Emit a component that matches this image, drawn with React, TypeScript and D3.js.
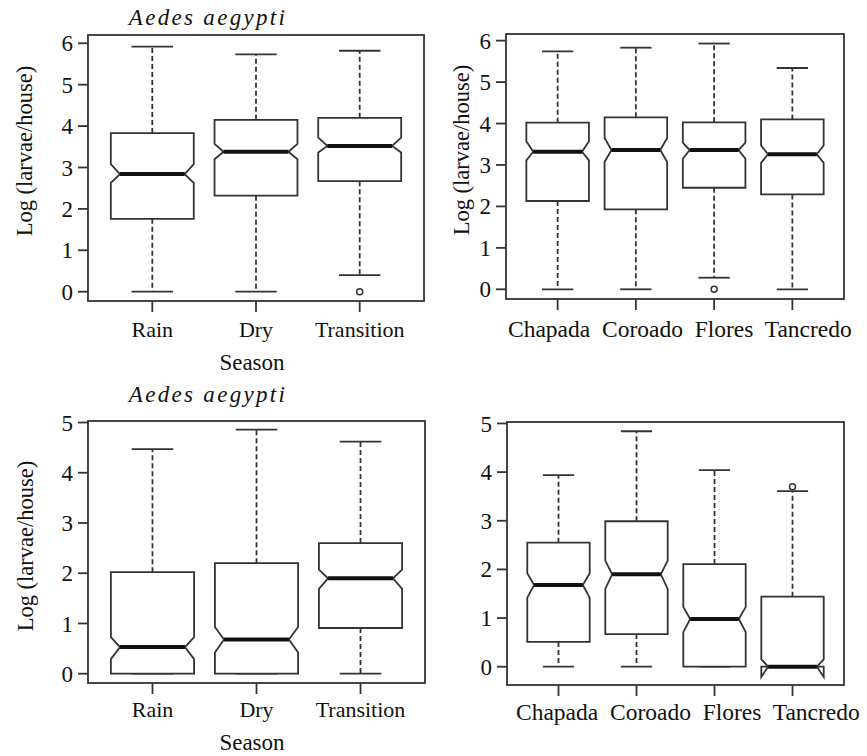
import * as d3 from "d3";

const SEASONS = ["Rain", "Dry", "Transition"];
const LOCALITIES = ["Chapada", "Coroado", "Flores", "Tancredo"];

// each box: [lower whisker, Q1, notch low, median, notch high, Q3, upper whisker]
const SEASON_1 = [
  [0, 1.76, 2.63, 2.84, 3.08, 3.83, 5.92],
  [0, 2.32, 3.2, 3.38, 3.57, 4.15, 5.73],
  [0.4, 2.67, 3.36, 3.52, 3.72, 4.2, 5.82],
];
const SEASON_1_OUT = [[], [], [0]];

const LOCALITY_1 = [
  [0, 2.13, 3.11, 3.32, 3.57, 4.02, 5.74],
  [0, 1.93, 3.07, 3.36, 3.65, 4.15, 5.83],
  [0.28, 2.45, 3.15, 3.36, 3.54, 4.03, 5.93],
  [0, 2.29, 3.05, 3.26, 3.47, 4.1, 5.34],
];
const LOCALITY_1_OUT = [[], [], [0], []];

const SEASON_2 = [
  [0, 0, 0.29, 0.53, 0.73, 2.02, 4.47],
  [0, 0, 0.42, 0.68, 0.93, 2.2, 4.86],
  [0, 0.91, 1.69, 1.9, 2.07, 2.6, 4.62],
];
const SEASON_2_OUT = [[], [], []];

const LOCALITY_2 = [
  [0, 0.51, 1.42, 1.68, 1.92, 2.55, 3.94],
  [0, 0.67, 1.6, 1.9, 2.18, 2.99, 4.84],
  [0, 0, 0.71, 0.98, 1.23, 2.11, 4.04],
  [0, 0, -0.21, 0, 0.15, 1.44, 3.61],
];
const LOCALITY_2_OUT = [[], [], [], [3.7]];

const FONT = "'Liberation Serif', 'Times New Roman', serif";
const INK = "#111";
const LINE = "#333";
const NOTCH_FRAC = 0.78;
const LW = 1.8;

type PanelProps = {
  cats: string[];
  stats: number[][];
  outliers: number[][];
  domain: [number, number];
  frame: { x0: number; x1: number; y0: number; y1: number };
  title?: { x: number; y: number };
  ylab?: { x: number; y: number };
  xlab?: { x: number; y: number };
  catLabelY: number;
  catSize: number;
  // the locality panels have their names typed as one spaced line
  catLine?: { x: number };
};

function Panel({ cats, stats, outliers, domain, frame, title, ylab, xlab, catLabelY, catSize, catLine }: PanelProps) {
  const { x0, x1, y0, y1 } = frame;
  const n = cats.length;
  const x = d3.scalePoint<string>().domain(cats).range([x0, x1]).padding(0.5 + 0.04 * n);
  const y = d3.scaleLinear().domain(domain).range([y1, y0]);
  const wid = x.step() * 0.4;
  const yTicks = y.ticks(6).filter((t) => t >= 0);
  const line = d3.line();

  return (
    <g>
      {/* boxes */}
      {cats.map((c, i) => {
        const [lo, q1, nlo, med, nhi, q3, hi] = stats[i];
        const cx = x(c) ?? 0;
        const pts: [number, number][] = [
          [-1, q1], [1, q1], [1, nlo], [NOTCH_FRAC, med], [1, nhi], [1, q3],
          [-1, q3], [-1, nhi], [-NOTCH_FRAC, med], [-1, nlo],
        ].map(([dx, v]) => [cx + dx * wid, y(v)]);
        return (
          <g key={c}>
            <line x1={cx} x2={cx} y1={y(q3)} y2={y(hi)} stroke={LINE} strokeWidth={LW} strokeDasharray="5,3" />
            <line x1={cx} x2={cx} y1={y(q1)} y2={y(lo)} stroke={LINE} strokeWidth={LW} strokeDasharray="5,3" />
            <line x1={cx - wid / 2} x2={cx + wid / 2} y1={y(hi)} y2={y(hi)} stroke={LINE} strokeWidth={LW} />
            <line x1={cx - wid / 2} x2={cx + wid / 2} y1={y(lo)} y2={y(lo)} stroke={LINE} strokeWidth={LW} />
            <path d={line(pts) + "Z"} fill="white" stroke={LINE} strokeWidth={LW} strokeLinejoin="miter" />
            <line x1={cx - NOTCH_FRAC * wid} x2={cx + NOTCH_FRAC * wid} y1={y(med)} y2={y(med)} stroke="#111" strokeWidth={4} />
            {outliers[i].map((v, k) => (
              <circle key={k} cx={cx} cy={y(v)} r={3} fill="white" stroke={LINE} strokeWidth={1.5} />
            ))}
          </g>
        );
      })}

      {/* frame */}
      <rect x={x0} y={y0} width={x1 - x0} height={y1 - y0} fill="none" stroke={LINE} strokeWidth={LW} />

      {/* y axis */}
      {yTicks.map((t) => (
        <g key={t}>
          <line x1={x0 - 10} x2={x0} y1={y(t)} y2={y(t)} stroke={LINE} strokeWidth={LW} />
          <text x={x0 - 15} y={y(t)} dy="0.35em" textAnchor="end" fontSize={23} fontFamily={FONT} fill={INK}>
            {t}
          </text>
        </g>
      ))}

      {/* x axis */}
      {cats.map((c) => (
        <line key={c} x1={x(c)} x2={x(c)} y1={y1} y2={y1 + 11} stroke={LINE} strokeWidth={LW} />
      ))}
      {catLine ? (
        <text x={catLine.x} y={catLabelY} fontSize={catSize} fontFamily={FONT} fill={INK} style={{ whiteSpace: "pre" }}>
          {cats.join("  ")}
        </text>
      ) : (
        cats.map((c) => (
          <text key={c} x={x(c)} y={catLabelY} textAnchor="middle" fontSize={catSize} fontFamily={FONT} fill={INK}>
            {c}
          </text>
        ))
      )}

      {xlab && (
        <text x={xlab.x} y={xlab.y} textAnchor="middle" fontSize={23} fontFamily={FONT} fill={INK}>
          Season
        </text>
      )}
      {ylab && (
        <text transform={`translate(${ylab.x},${ylab.y}) rotate(-90)`} textAnchor="middle" fontSize={22.5} fontFamily={FONT} fill={INK}>
          Log (larvae/house)
        </text>
      )}
      {title && (
        <text x={title.x} y={title.y} textAnchor="middle" fontSize={23} fontStyle="italic" letterSpacing={2.3} fontFamily={FONT} fill={INK}>
          Aedes  aegypti
        </text>
      )}
    </g>
  );
}

export default function App() {
  return (
    <div style={{ position: "absolute", left: 0, top: 0 }}>
      <svg width={867} height={756} style={{ display: "block", background: "white" }}>
        <Panel
          cats={SEASONS}
          stats={SEASON_1}
          outliers={SEASON_1_OUT}
          domain={[-0.225, 6.2]}
          frame={{ x0: 88, x1: 424, y0: 35, y1: 301 }}
          title={{ x: 208, y: 25 }}
          ylab={{ x: 31.5, y: 151 }}
          xlab={{ x: 252, y: 370 }}
          catLabelY={337}
          catSize={22}
        />
        <Panel
          cats={LOCALITIES}
          stats={LOCALITY_1}
          outliers={LOCALITY_1_OUT}
          domain={[-0.234, 6.16]}
          frame={{ x0: 506, x1: 844, y0: 34, y1: 299 }}
          ylab={{ x: 469, y: 150 }}
          catLabelY={337}
          catSize={23.5}
          catLine={{ x: 508 }}
        />
        <Panel
          cats={SEASONS}
          stats={SEASON_2}
          outliers={SEASON_2_OUT}
          domain={[-0.185, 5.03]}
          frame={{ x0: 88, x1: 425, y0: 421, y1: 683 }}
          title={{ x: 208, y: 402 }}
          ylab={{ x: 32.5, y: 546 }}
          xlab={{ x: 252, y: 750 }}
          catLabelY={717}
          catSize={22}
        />
        <Panel
          cats={LOCALITIES}
          stats={LOCALITY_2}
          outliers={LOCALITY_2_OUT}
          domain={[-0.376, 5.03]}
          frame={{ x0: 507, x1: 844, y0: 422, y1: 685 }}
          catLabelY={720}
          catSize={23.5}
          catLine={{ x: 516 }}
        />
      </svg>
    </div>
  );
}
